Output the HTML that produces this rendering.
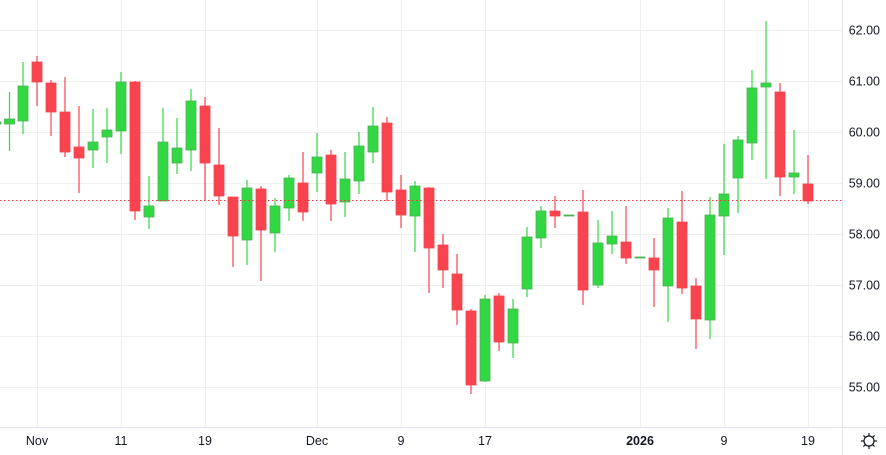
<!DOCTYPE html>
<html><head><meta charset="utf-8"><style>
html,body{margin:0;padding:0;background:#fff;}
svg{display:block;font-family:"Liberation Sans",sans-serif;}
</style></head><body>
<svg id="s" width="886" height="455" xmlns="http://www.w3.org/2000/svg">
<rect width="886" height="455" fill="#fff"/>
<g id="grid" stroke="#f0f0f0" stroke-width="1"></g>
<g id="c"></g>
<line x1="0" y1="200.5" x2="842" y2="200.5" stroke="#f23645" stroke-width="1" stroke-dasharray="1.5,2.5"/>
<line x1="842.5" y1="0" x2="842.5" y2="455" stroke="#e0e3eb"/>
<line x1="0" y1="427.5" x2="886" y2="427.5" stroke="#e0e3eb"/>
<g id="lab" fill="#131722" font-size="12.5"></g>
<g transform="translate(869,441)" stroke="#131722" stroke-width="1.2" fill="none">
<circle r="5"/>
<line x1="0" y1="-8" x2="0" y2="-5"/><line x1="0" y1="5" x2="0" y2="8"/>
<line x1="-8" y1="0" x2="-5" y2="0"/><line x1="5" y1="0" x2="8" y2="0"/>
<line x1="-5.6" y1="-5.6" x2="-3.5" y2="-3.5"/><line x1="3.5" y1="3.5" x2="5.6" y2="5.6"/>
<line x1="-5.6" y1="5.6" x2="-3.5" y2="3.5"/><line x1="3.5" y1="-3.5" x2="5.6" y2="-5.6"/>
</g>
</svg>
<script>
var NS="http://www.w3.org/2000/svg";
function el(p,t,a,txt){var e=document.createElementNS(NS,t);for(var k in a)e.setAttribute(k,a[k]);if(txt)e.textContent=txt;p.appendChild(e);return e;}
var g=document.getElementById('grid');
[30,81,132,183,234,285,336,387].forEach(function(y){el(g,'line',{x1:0,x2:842,y1:y+.5,y2:y+.5});});
[37,121,205,317,401,485,640,724,808].forEach(function(x){el(g,'line',{x1:x+.5,x2:x+.5,y1:0,y2:427});});
var L=document.getElementById('lab');
['62.00','61.00','60.00','59.00','58.00','57.00','56.00','55.00'].forEach(function(t,i){el(L,'text',{x:880,y:[30,81,132,183,234,285,336,387][i]+4.5,'text-anchor':'end'},t);});
[['Nov',37],['11',121],['19',205],['Dec',317],['9',401],['17',485],['2026',640],['9',724],['19',808]].forEach(function(d){var a={x:d[1],y:445,'text-anchor':'middle'};if(d[0]=='2026')a['font-weight']='bold';el(L,'text',a,d[0]);});
// x, top body, bottom body, wickTop, wickBot, color
var C=[
[-4,122,124,110,130,'g'],
[9.5,119,124,92,151,'g'],[23,86,121,62,134,'g'],[37,62,82,56,106,'r'],[51,83,112,80,136,'r'],
[65,112,152,77,157,'r'],[79,147,158,106,193,'r'],[93,142,150,109,168,'g'],[107,130,137,108,163,'g'],
[121,82,131,72,154,'g'],[135,82,211,81,220,'r'],[149,206,217,176,229,'g'],[163,142,201,108,201,'g'],
[177,148,163,118,174,'g'],[191,101,150,89,171,'g'],[205,106,163,97,201,'r'],[219,165,196,128,205,'r'],
[233,197,236,197,267,'r'],[247,188,240,180,265,'g'],[261,189,230,186,281,'r'],[275,206,233,198,252,'g'],
[289,178,208,175,221,'g'],[303,183,212,152,221,'r'],[317,157,173,133,192,'g'],[331,155,204,150,221,'r'],
[345,179,202,152,217,'g'],[359,146,181,132,194,'g'],[373,126,152,107,163,'g'],[387,123,192,117,201,'r'],
[401,190,215,175,228,'r'],[415,186,216,181,252,'g'],[429,188,248,187,293,'r'],[443,245,270,234,288,'r'],
[457,274,310,254,325,'r'],[471,311,385,309,394,'r'],[485,299,381,295,382,'g'],[499,296,342,293,351,'r'],
[513,309,343,299,358,'g'],[527,237,289,227,297,'g'],[541,211,238,206,248,'g'],[555,211,216,196,228,'r'],
[569,215,215.5,215,215.5,'g'],[583,212,290,190,305,'r'],[598,243,285,220,288,'g'],[612,236,244,211,254,'g'],
[626,242,258,206,264,'r'],[640,257,257.5,257,257.5,'g'],[654,258,270,238,307,'r'],[668,218,286,208,322,'g'],
[682,222,288,191,294,'r'],[696,286,319,278,349,'r'],[710,215,320,197,339,'g'],[724,194,216,144,255,'g'],
[738,140,178,136,213,'g'],[752,88,143,70,160,'g'],[766,83,87,21,179,'g'],[780,92,177,83,196,'r'],
[794,173,177,130,194,'g'],[808,184,201,155,204,'r']];
var cg=document.getElementById('c');
C.forEach(function(c){var col=c[5]=='g'?'#32d843':'#f7444f';var st=c[5]=='g'?'#4caf50':'#f7444f';
el(cg,'line',{x1:c[0],x2:c[0],y1:c[3],y2:c[4],stroke:col,'stroke-width':1.2});
var h=Math.max(c[2]-c[1],1);
el(cg,'rect',{x:c[0]-5,y:c[1],width:10,height:h,fill:col,stroke:st,'stroke-width':0.8});});
</script>
</body></html>
